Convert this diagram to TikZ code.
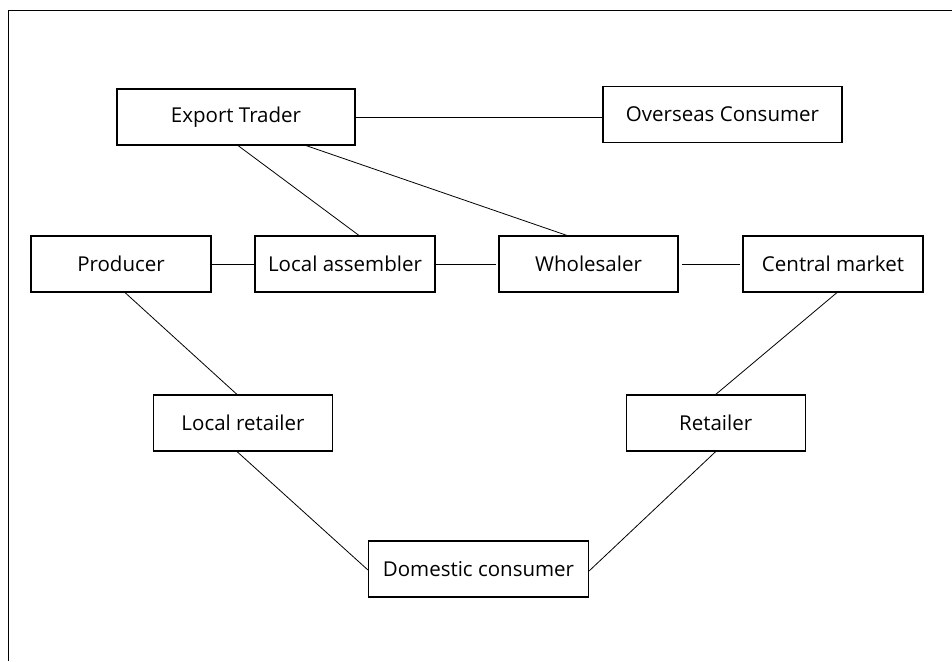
\documentclass[tikz,border=0pt]{standalone}
\usepackage{fontspec}
\setmainfont{Open Sans}
\begin{document}
\begin{tikzpicture}[x=1pt,y=-1pt,
  box/.style={draw, line width=1.1pt, minimum height=56pt, inner sep=0pt, font=\fontsize{20.5}{22}\selectfont},
  link/.style={line width=0.8pt}]
\useasboundingbox (0,0) rectangle (952,661);
\draw[line width=1pt] (8.5,661) -- (8.5,10.5) -- (952,10.5);
\node[box, minimum width=238pt] (et) at (236,117) {Export Trader};
\node[box, minimum width=239pt] (oc) at (722.5,114.5) {Overseas Consumer};
\node[box, minimum width=180pt] (pr) at (121,264) {Producer};
\node[box, minimum width=180pt] (la) at (345,264) {Local assembler};
\node[box, minimum width=179pt] (wh) at (588.5,264) {Wholesaler};
\node[box, minimum width=180pt] (cm) at (833,264) {Central market};
\node[box, minimum width=179pt] (lr) at (243,423) {Local retailer};
\node[box, minimum width=179pt] (re) at (715.7,423) {Retailer};
\node[box, minimum width=220pt] (dc) at (478.5,569) {Domestic consumer};
\draw[link] (et.east) -- (et.east -| oc.west);
\draw[link] ([xshift=2pt]et.south) -- ([xshift=14pt]la.north);
\draw[link] ([xshift=70pt]et.south) -- ([xshift=-21.5pt]wh.north);
\draw[link] (pr.east) -- (la.west);
\draw[link] (la.east) -- ([xshift=-2pt]wh.west);
\draw[link] ([xshift=3pt]wh.east) -- ([xshift=-2pt]cm.west);
\draw[link] ([xshift=4pt]pr.south) -- ([xshift=-6pt]lr.north);
\draw[link] ([xshift=4pt]cm.south) -- (re.north);
\draw[link] ([xshift=-6pt]lr.south) -- ([yshift=-1pt]dc.west);
\draw[link] (re.south) -- ([yshift=-2pt]dc.east);
\end{tikzpicture}
\end{document}
